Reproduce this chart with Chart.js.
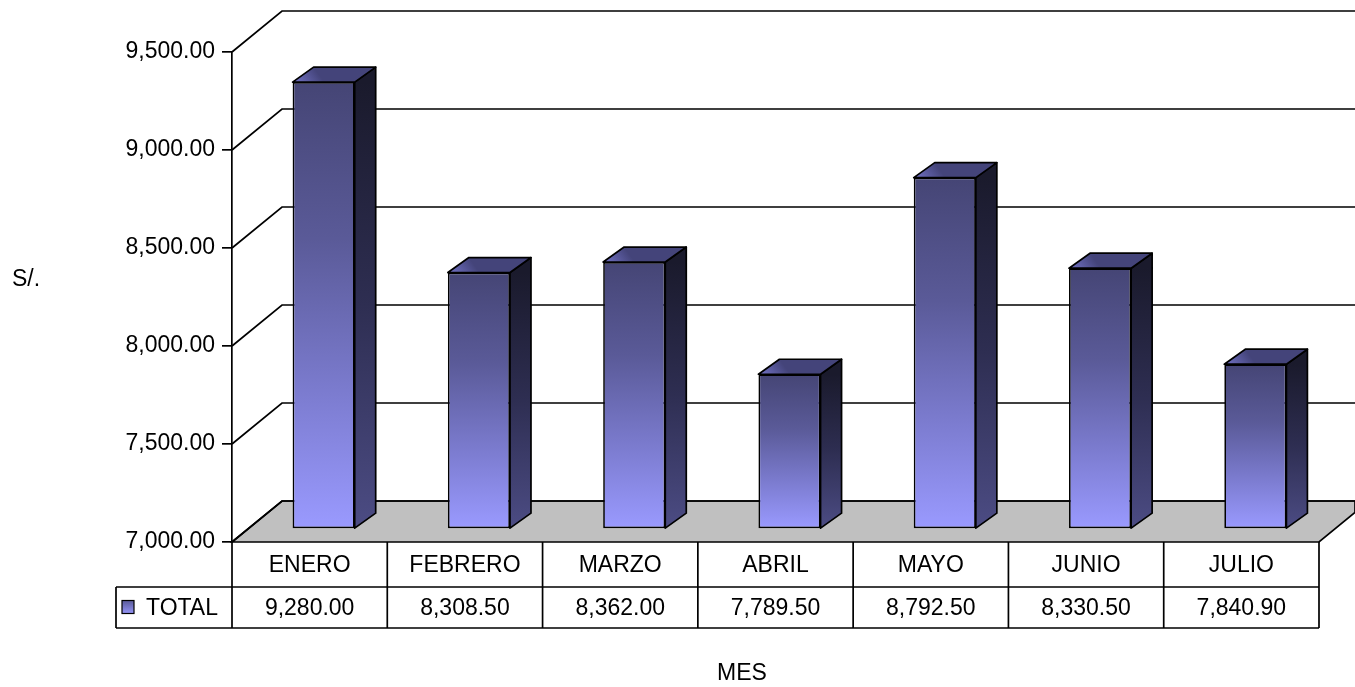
<!DOCTYPE html>
<html>
<head>
<meta charset="utf-8">
<script src="https://cdn.jsdelivr.net/npm/chart.js@4/dist/chart.umd.min.js"></script>
<style>
  html, body { margin: 0; padding: 0; background: #fff; }
  #wrap { width: 1355px; height: 687px; position: relative; }
</style>
</head>
<body>
<div id="wrap"><canvas id="chart"></canvas></div>
<script>
// datos del grafico
const MESES = ['ENERO', 'FEBRERO', 'MARZO', 'ABRIL', 'MAYO', 'JUNIO', 'JULIO'];
const TOTAL = [9280.00, 8308.50, 8362.00, 7789.50, 8792.50, 8330.50, 7840.90];
const Y_TICKS = [7000, 7500, 8000, 8500, 9000, 9500];
const SERIE = 'TOTAL';
const EJE_Y = 'S/.';
const EJE_X = 'MES';

const FONT = "'Liberation Sans', Arial, sans-serif";
const FSIZE = 23;
const LW = 1.7;

// desplazamientos de la vista 3D
const WALL_DX = 50, WALL_DY = -41;   // pared del fondo
const BAR_DX = 14, BAR_DY = -13;     // plano frontal de las barras
const FACE_DX = 21, FACE_DY = -15;   // profundidad de cada barra
const TABLE_ROW1 = 587, TABLE_ROW2 = 628, TABLE_LEFT = 116;

const fmt = v => v.toLocaleString('en-US', { minimumFractionDigits: 2, maximumFractionDigits: 2 });

function frontGradient(ctx, top, bot) {
    const g = ctx.createLinearGradient(0, top, 0, bot);
    g.addColorStop(0, '#454575');
    g.addColorStop(0.35, '#5a5a98');
    g.addColorStop(0.7, '#7c7cd0');
    g.addColorStop(1, '#9a9aff');
    return g;
}

const plot3d = {
    id: 'plot3d',
    beforeDatasetsDraw(chart) {
        const { ctx, chartArea: a, scales: { y }, width } = chart;
        const L = a.left, B = a.bottom, R = a.right;
        ctx.save();
        ctx.lineWidth = LW;
        ctx.strokeStyle = '#000';

        // piso gris
        const yRight = B + WALL_DY * (width - R) / WALL_DX;
        ctx.beginPath();
        ctx.moveTo(L, B);
        ctx.lineTo(L + WALL_DX, B + WALL_DY);
        ctx.lineTo(width, B + WALL_DY);
        ctx.lineTo(width, yRight);
        ctx.lineTo(R, B);
        ctx.closePath();
        ctx.fillStyle = '#c0c0c0';
        ctx.fill();
        ctx.stroke();

        // lineas de la pared (diagonal + horizontal)
        Y_TICKS.forEach(v => {
            const py = y.getPixelForValue(v);
            ctx.beginPath();
            ctx.moveTo(L, py);
            ctx.lineTo(L + WALL_DX, py + WALL_DY);
            ctx.lineTo(width, py + WALL_DY);
            ctx.stroke();
        });

        // las barras se dibujan en el plano desplazado
        ctx.translate(BAR_DX, BAR_DY);
    },
    afterDatasetsDraw(chart) {
        const { ctx } = chart;
        const meta = chart.getDatasetMeta(0);
        ctx.lineWidth = LW;
        ctx.strokeStyle = '#000';
        ctx.lineJoin = 'round';
        meta.data.forEach(bar => {
            const { x, y, base, width } = bar.getProps(['x', 'y', 'base', 'width'], true);
            const l = x - width / 2, r = x + width / 2;

            // cara lateral
            const gs = ctx.createLinearGradient(0, y, 0, base);
            gs.addColorStop(0, '#1a1a2c');
            gs.addColorStop(0.5, '#2e2e52');
            gs.addColorStop(1, '#4c4c84');
            ctx.beginPath();
            ctx.moveTo(r, y);
            ctx.lineTo(r + FACE_DX, y + FACE_DY);
            ctx.lineTo(r + FACE_DX, base + FACE_DY);
            ctx.lineTo(r, base);
            ctx.closePath();
            ctx.fillStyle = gs;
            ctx.fill();
            ctx.stroke();

            // cara superior
            const gt = ctx.createLinearGradient(l, y, l + FACE_DX, y + FACE_DY);
            gt.addColorStop(0, '#7474c8');
            gt.addColorStop(1, '#44447a');
            ctx.beginPath();
            ctx.moveTo(l, y);
            ctx.lineTo(l + FACE_DX, y + FACE_DY);
            ctx.lineTo(r + FACE_DX, y + FACE_DY);
            ctx.lineTo(r, y);
            ctx.closePath();
            ctx.fillStyle = gt;
            ctx.fill();
            ctx.stroke();
        });
        ctx.restore();
    },
    afterDraw(chart) {
        const { ctx, chartArea: a, scales: { x } } = chart;
        const L = a.left, B = a.bottom, R = a.right;
        const colW = (R - L) / MESES.length;
        ctx.save();
        ctx.strokeStyle = '#000';
        ctx.lineWidth = LW;

        // tabla de datos
        ctx.beginPath();
        ctx.moveTo(TABLE_LEFT, TABLE_ROW1); ctx.lineTo(R, TABLE_ROW1);
        ctx.moveTo(TABLE_LEFT, TABLE_ROW2); ctx.lineTo(R, TABLE_ROW2);
        ctx.moveTo(TABLE_LEFT, TABLE_ROW1); ctx.lineTo(TABLE_LEFT, TABLE_ROW2);
        ctx.moveTo(L, B); ctx.lineTo(L, TABLE_ROW2);
        MESES.forEach((m, i) => {
            const xr = x.getPixelForValue(i) + colW / 2;
            ctx.moveTo(xr, B); ctx.lineTo(xr, TABLE_ROW2);
        });
        ctx.stroke();

        ctx.fillStyle = '#000';
        ctx.font = FSIZE + 'px ' + FONT;
        ctx.textAlign = 'center';
        ctx.textBaseline = 'middle';
        MESES.forEach((m, i) => {
            const cx = x.getPixelForValue(i);
            ctx.fillText(m, cx, (B + TABLE_ROW1) / 2 + 1);
            ctx.fillText(fmt(TOTAL[i]), cx, (TABLE_ROW1 + TABLE_ROW2) / 2 + 1);
        });

        // leyenda en la tabla
        const sy = (TABLE_ROW1 + TABLE_ROW2) / 2;
        const sw = ctx.createLinearGradient(0, sy - 7, 0, sy + 7);
        sw.addColorStop(0, '#5a5a98');
        sw.addColorStop(1, '#9a9aff');
        ctx.fillStyle = sw;
        ctx.fillRect(122, sy - 7, 12, 13);
        ctx.lineWidth = 1.2;
        ctx.strokeRect(122, sy - 7, 12, 13);
        ctx.fillStyle = '#000';
        ctx.textAlign = 'left';
        ctx.fillText(SERIE, 146, sy + 1);

        // titulos de ejes
        ctx.fillText(EJE_Y, 12, 280);
        ctx.textAlign = 'center';
        ctx.fillText(EJE_X, 742, 674);
        ctx.restore();
    }
};

document.addEventListener('DOMContentLoaded', () => {
    const ctx = document.getElementById('chart').getContext('2d');
    new Chart(ctx, {
        type: 'bar',
        data: {
            labels: MESES,
            datasets: [{
                label: SERIE,
                data: TOTAL,
                base: Y_TICKS[0],
                clip: false,
                backgroundColor: (c) => {
                    const chart = c.chart;
                    const ys = chart.scales && chart.scales.y;
                    if (!chart.chartArea || !ys || !c.parsed) return '#7777cc';
                    const top = ys.getPixelForValue(c.parsed.y);
                    const bot = ys.getPixelForValue(Y_TICKS[0]);
                    return frontGradient(chart.ctx, top, bot);
                },
                borderColor: '#000',
                borderWidth: LW,
                borderSkipped: false,
                barPercentage: 0.4,
                categoryPercentage: 1
            }]
        },
        plugins: [plot3d],
        options: {
            responsive: true,
            maintainAspectRatio: false,
            animation: false,
            layout: { padding: { left: 0, top: 52, right: 36, bottom: 145 } },
            plugins: {
                legend: { display: false },
                tooltip: { enabled: false }
            },
            scales: {
                x: { display: false, offset: true },
                y: {
                    min: Y_TICKS[0],
                    max: Y_TICKS[Y_TICKS.length - 1],
                    afterFit: s => { s.width = 232; },
                    afterBuildTicks: s => { s.ticks = Y_TICKS.map(v => ({ value: v })); },
                    border: { display: true, color: '#000', width: LW },
                    grid: { drawOnChartArea: false, drawTicks: true, tickLength: 10, color: '#000', lineWidth: LW },
                    ticks: {
                        padding: 7,
                        color: '#000',
                        font: { family: FONT, size: FSIZE },
                        callback: v => fmt(v)
                    }
                }
            }
        }
    });
});
</script>
</body>
</html>
